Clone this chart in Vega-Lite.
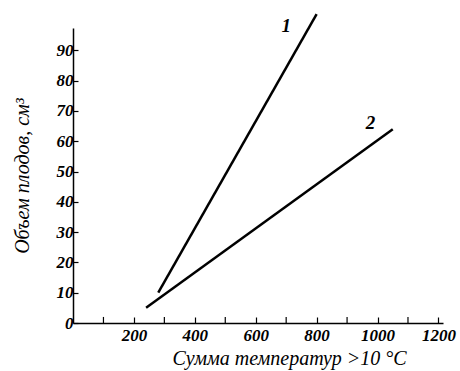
{
  "$schema": "https://vega.github.io/schema/vega-lite/v6.json",
  "width": 370,
  "height": 295,
  "autosize": {"type": "none"},
  "padding": {"left": 73, "top": 28, "right": 17, "bottom": 48},
  "background": "white",
  "config": {
    "view": {"stroke": null},
    "axis": {
      "grid": false,
      "domainColor": "black",
      "domainWidth": 1.5,
      "tickColor": "black",
      "tickWidth": 1.2,
      "labelFont": "Liberation Serif",
      "labelFontStyle": "italic",
      "labelFontWeight": "bold",
      "labelFontSize": 17,
      "labelColor": "black",
      "labelOverlap": false,
      "labelFlush": false,
      "labelBound": false,
      "titleFont": "Liberation Serif",
      "titleFontStyle": "italic",
      "titleFontWeight": "normal",
      "titleFontSize": 20,
      "titleColor": "black"
    }
  },
  "datasets": {
    "lines": [
      {"series": "1", "t": 280, "v": 10},
      {"series": "1", "t": 800, "v": 102},
      {"series": "2", "t": 240, "v": 5},
      {"series": "2", "t": 1050, "v": 64}
    ],
    "labels": [
      {"label": "1", "t": 700, "v": 98},
      {"label": "2", "t": 977, "v": 66}
    ],
    "minorTicks": [
      {"t": 100}, {"t": 300}, {"t": 500}, {"t": 700}, {"t": 900}, {"t": 1100}
    ]
  },
  "layer": [
    {
      "data": {"name": "lines"},
      "mark": {"type": "line", "color": "black", "strokeWidth": 2.5, "clip": false},
      "encoding": {
        "x": {
          "field": "t", "type": "quantitative",
          "scale": {"domain": [0, 1215], "nice": false, "zero": false},
          "axis": {
            "values": [200, 400, 600, 800, 1000, 1200],
            "tickCount": 30,
            "tickSize": -6,
            "labelPadding": 10,
            "title": "Сумма температур >10 °C",
            "titleX": 216,
            "titlePadding": 5,
            "format": "d"
          }
        },
        "y": {
          "field": "v", "type": "quantitative",
          "scale": {"domain": [0, 97.4], "nice": false},
          "axis": {
            "values": [0, 10, 20, 30, 40, 50, 60, 70, 80, 90],
            "tickCount": 30,
            "tickSize": -5,
            "labelPadding": 5,
            "title": "Объем плодов, см³",
            "titlePadding": 24
          }
        },
        "detail": {"field": "series"}
      }
    },
    {
      "data": {"name": "minorTicks"},
      "mark": {"type": "rule", "color": "black", "strokeWidth": 1.2},
      "encoding": {
        "x": {"field": "t", "type": "quantitative"},
        "y": {"datum": 0},
        "y2": {"datum": 2}
      }
    },
    {
      "data": {"name": "labels"},
      "mark": {"type": "text", "font": "Liberation Serif", "fontStyle": "italic", "fontWeight": "bold", "fontSize": 19, "color": "black", "clip": false},
      "encoding": {
        "x": {"field": "t", "type": "quantitative"},
        "y": {"field": "v", "type": "quantitative"},
        "text": {"field": "label"}
      }
    }
  ]
}
